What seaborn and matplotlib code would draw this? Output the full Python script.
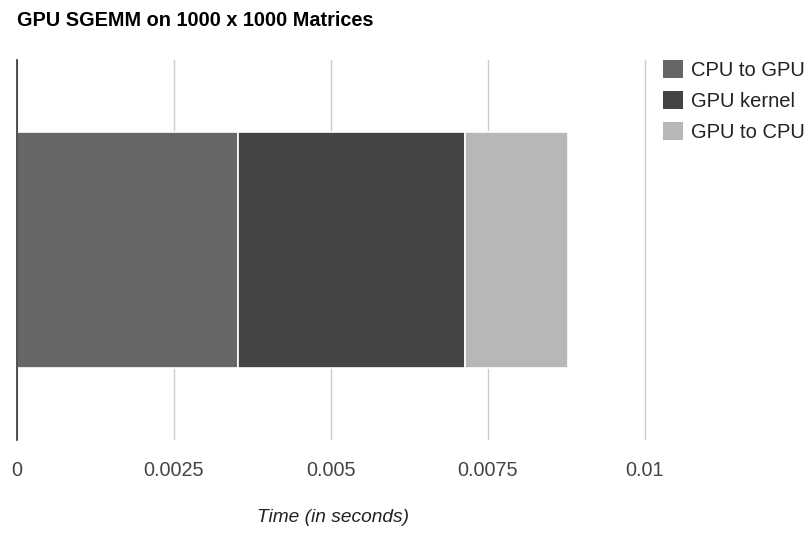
import matplotlib
matplotlib.use("Agg")
import matplotlib.pyplot as plt
import matplotlib.patches as mpatches
import seaborn as sns
import numpy as np

categories = ["CPU to GPU", "GPU kernel", "GPU to CPU"]
times = [0.00352, 0.00362, 0.00164]
colors = ["#666666", "#444444", "#b7b7b7"]
xticks = [0, 0.0025, 0.005, 0.0075, 0.01]
xtick_labels = ["0", "0.0025", "0.005", "0.0075", "0.01"]
title = "GPU SGEMM on 1000 x 1000 Matrices"
xlabel = "Time (in seconds)"

sns.set_theme(style="white")
plt.rcParams["font.family"] = ["Liberation Sans", "DejaVu Sans"]

fig = plt.figure(figsize=(8.08, 5.33), dpi=100)
xmax = 0.01005
ax = fig.add_axes([17 / 808, 1 - 440 / 533, (645 - 17) * (xmax / 0.01) / 808, 380 / 533])

lefts = np.concatenate([[0], np.cumsum(times)[:-1]])
for cat, t, l, c in zip(categories, times, lefts, colors):
    sns.barplot(x=[t], y=[""], orient="h", left=l, color=c, width=0.62,
                edgecolor="white", linewidth=1.2, ax=ax, zorder=3, saturation=1)

ax.set_xlim(0, xmax)
ax.set_ylim(0.5, -0.5)
ax.set_xticks(xticks)
ax.set_xticklabels(xtick_labels, color="#444444", fontsize=14.3)
ax.tick_params(axis="x", length=0, pad=15)
ax.set_yticks([])
ax.set_ylabel("")
ax.xaxis.grid(True, color="#cccccc", linewidth=1, zorder=0)
for s in ["top", "right", "bottom"]:
    ax.spines[s].set_visible(False)
ax.spines["left"].set_color("#333333")
ax.spines["left"].set_linewidth(1.2)
ax.spines["left"].set_zorder(5)
ax.set_xlabel(xlabel, fontstyle="italic", fontsize=13.8, color="#222222", labelpad=21)

fig.text(17 / 808, 1 - 21 / 533, title, fontsize=14.3, fontweight="bold",
         color="#000000", va="center", ha="left")

handles = [mpatches.Patch(facecolor=c, edgecolor="none", label=cat)
           for cat, c in zip(categories, colors)]
fig.legend(handles=handles, loc="upper left", bbox_to_anchor=(645 / 808, 1 - 42 / 533),
           frameon=False, fontsize=14.5, handlelength=1.0, handleheight=1.0,
           handletextpad=0.36, labelspacing=0.55, labelcolor="#222222")

fig.savefig("out.png", dpi=100)
